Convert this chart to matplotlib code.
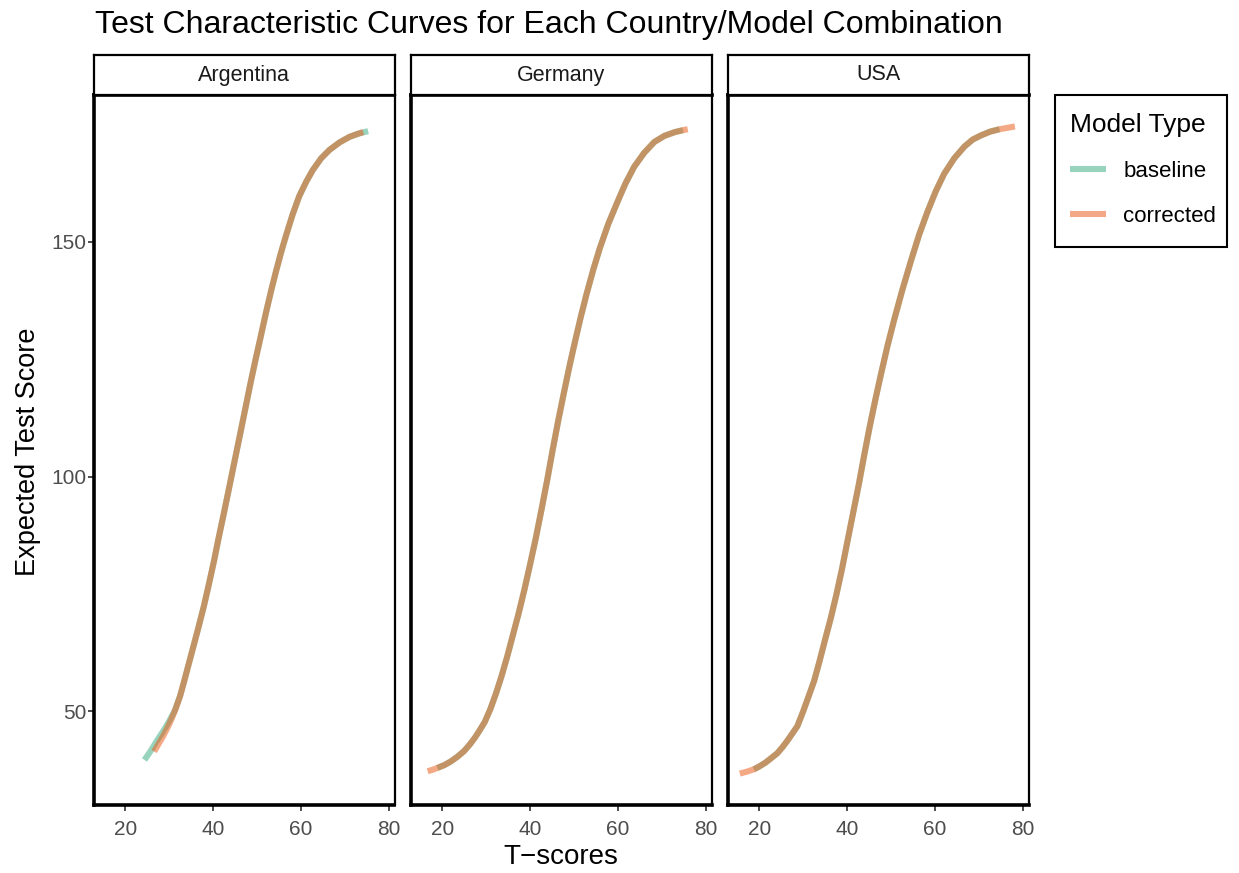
import matplotlib
matplotlib.use("Agg")
import matplotlib.pyplot as plt
from matplotlib.lines import Line2D
from matplotlib.patches import Rectangle

plt.rcParams['font.family'] = ['Liberation Sans', 'DejaVu Sans']

countries = ["Argentina", "Germany", "USA"]
models = ["baseline", "corrected"]

arg_base_x = [24.4, 25.8, 27.1, 28.5, 29.8, 31.2, 32.5, 33.5, 34.4, 35.6, 36.7, 37.9,
              39.0, 40.2, 41.3, 42.5, 43.6, 44.8, 45.9, 47.4, 48.6, 49.7, 50.9, 52.0,
              53.2, 54.3, 55.5, 56.6, 58.1, 59.6, 61.2, 62.7, 64.6, 66.5, 68.8, 71.1,
              73.2, 75.3]
arg_base_y = [39.6, 41.5, 43.5, 45.5, 47.5, 49.9, 53.2, 56.6, 59.8, 64.0, 67.9, 72.3,
              76.8, 81.9, 87.0, 92.3, 97.3, 102.8, 107.8, 114.7, 120.2, 125.0, 130.0, 134.7,
              139.5, 143.6, 147.8, 151.3, 155.8, 159.7, 162.8, 165.3, 167.8, 169.6, 171.2, 172.4,
              173.1, 173.6]
arg_corr_x = [26.6, 27.6, 28.6, 29.6, 30.5, 31.5, 32.5, 33.5, 34.4, 35.6, 36.7, 37.9,
              39.0, 40.2, 41.3, 42.5, 43.6, 44.8, 45.9, 47.4, 48.6, 49.7, 50.9, 52.0,
              53.2, 54.3, 55.5, 56.6, 58.1, 59.6, 61.2, 62.7, 64.6, 66.5, 68.8, 71.1,
              73.2, 74.2]
arg_corr_y = [41.4, 43.0, 44.6, 46.4, 48.2, 50.5, 53.2, 56.6, 59.8, 64.0, 67.9, 72.3,
              76.8, 81.9, 87.0, 92.3, 97.3, 102.8, 107.8, 114.7, 120.2, 125.0, 130.0, 134.7,
              139.5, 143.6, 147.8, 151.3, 155.8, 159.7, 162.8, 165.3, 167.8, 169.6, 171.2, 172.4,
              173.1, 173.4]

ger_base_x = [18.9, 20.5, 22.0, 23.5, 25.0, 26.3, 27.5, 28.6, 29.7, 31.0, 32.3, 33.5,
              34.8, 36.1, 37.4, 38.7, 40.0, 41.3, 42.6, 43.9, 45.1, 46.4, 47.7, 49.0,
              50.3, 51.6, 52.9, 54.4, 55.9, 57.8, 59.8, 61.7, 63.7, 66.0, 68.3, 70.6,
              73.0, 74.8]
ger_base_y = [37.9, 38.5, 39.3, 40.3, 41.5, 42.9, 44.4, 46.0, 47.7, 50.5, 53.9, 57.4,
              61.6, 66.2, 70.8, 75.8, 81.2, 86.8, 92.9, 99.2, 105.4, 111.8, 117.8, 123.6,
              129.0, 134.2, 139.0, 144.1, 148.7, 153.8, 158.3, 162.4, 166.0, 169.0, 171.3, 172.6,
              173.4, 173.8]
ger_corr_x = [16.7, 17.8] + ger_base_x + [75.9]
ger_corr_y = [37.2, 37.5] + ger_base_y + [174.0]

usa_base_x = [18.8, 20.0, 21.4, 22.9, 24.1, 25.3, 26.5, 27.6, 28.7, 30.0, 31.2, 32.5,
              33.7, 35.0, 36.3, 37.6, 38.9, 40.1, 41.4, 42.7, 43.9, 45.2, 46.5, 47.7,
              49.2, 50.7, 52.6, 54.5, 56.4, 58.3, 60.2, 62.1, 64.4, 66.7, 68.6, 70.5,
              72.6, 74.7]
usa_base_y = [37.6, 38.2, 39.0, 40.1, 41.0, 42.3, 43.8, 45.3, 46.8, 49.9, 53.0, 56.4,
              60.5, 65.2, 69.8, 74.9, 80.5, 86.2, 92.3, 98.4, 104.5, 110.8, 116.6, 121.7,
              127.8, 133.3, 139.8, 145.8, 151.5, 156.4, 160.8, 164.5, 167.8, 170.3, 171.8, 172.7,
              173.5, 174.0]
usa_corr_x = [15.6, 17.2] + usa_base_x + [76.5, 78.2]
usa_corr_y = [36.7, 37.1] + usa_base_y + [174.3, 174.6]

series = {
    "Argentina": {"baseline": (arg_base_x, arg_base_y), "corrected": (arg_corr_x, arg_corr_y)},
    "Germany": {"baseline": (ger_base_x, ger_base_y), "corrected": (ger_corr_x, ger_corr_y)},
    "USA": {"baseline": (usa_base_x, usa_base_y), "corrected": (usa_corr_x, usa_corr_y)},
}

x_ticks = [20, 40, 60, 80]
y_ticks = [50, 100, 150]

colors = {"baseline": "#33A97D", "corrected": "#EB550F"}
ALPHA = 0.5
LW = 4.4

W, H = 1239, 873
fig = plt.figure(figsize=(W / 100, H / 100), dpi=100)

panel_lefts = [93.5, 410.5, 727.5]
panel_w = 301
p_top, p_bot = 95, 805
s_top = 55

tick_gray = "#4D4D4D"

for i, c in enumerate(countries):
    l = panel_lefts[i]
    ax = fig.add_axes([l / W, 1 - p_bot / H, panel_w / W, (p_bot - p_top) / H])
    for m in models:
        xs, ys = series[c][m]
        ax.plot(xs, ys, color=colors[m], alpha=ALPHA, lw=LW, solid_capstyle='butt',
                solid_joinstyle='round')
    ax.set_xlim(12.8, 81.3)
    ax.set_ylim(30.0, 181.3)
    ax.set_xticks(x_ticks)
    ax.set_xticklabels([str(t) for t in x_ticks])
    ax.set_yticks(y_ticks)
    if i == 0:
        ax.set_yticklabels([str(t) for t in y_ticks])
        ax.tick_params(axis='y', length=4, width=1.4, color=tick_gray,
                       labelsize=15, labelcolor=tick_gray, pad=1)
    else:
        ax.tick_params(axis='y', left=False, labelleft=False)
    ax.tick_params(axis='x', length=4, width=1.4, color=tick_gray,
                   labelsize=15, labelcolor=tick_gray, pad=7)
    for side in ['top', 'right']:
        ax.spines[side].set_linewidth(1.6)
        ax.spines[side].set_color('black')
    for side in ['left', 'bottom']:
        ax.spines[side].set_linewidth(2.6)
        ax.spines[side].set_color('black')
    ax.spines['top'].set_linewidth(2.6)

    sax = fig.add_axes([l / W, 1 - p_top / H, panel_w / W, (p_top - s_top) / H])
    sax.set_xticks([])
    sax.set_yticks([])
    for side in sax.spines:
        sax.spines[side].set_linewidth(1.6)
        sax.spines[side].set_color('black')
    sax.text(0.5, 0.5, c, ha='center', va='center', fontsize=15.5, color='#1A1A1A',
             transform=sax.transAxes)

fig.text(95 / W, 1 - 33 / H, "Test Characteristic Curves for Each Country/Model Combination",
         fontsize=23, ha='left', va='baseline', color='black')
fig.text(561 / W, 1 - 857 / H, "T\u2212scores", fontsize=20, ha='center', va='center')
fig.text(28 / W, 1 - 452 / H, "Expected Test Score", fontsize=19.5, ha='center',
         va='center', rotation=90)

# legend frame (drawn separately so its size matches the reference box)
fig.add_artist(Rectangle((1055 / W, 1 - 247 / H), (1227 - 1055) / W, (247 - 95) / H,
                         transform=fig.transFigure, facecolor='white', edgecolor='black',
                         lw=1.5, zorder=1))

handles = [Line2D([0], [0], color=colors[m], alpha=ALPHA, lw=LW, solid_capstyle='butt')
           for m in models]
leg = fig.legend(handles, models, title="Model Type", loc='upper left',
                 bbox_to_anchor=(1055 / W, 1 - 98 / H), borderaxespad=0, frameon=False,
                 fontsize=16, title_fontsize=19, handlelength=1.6, handletextpad=0.8,
                 labelspacing=1.07, borderpad=0.68, alignment='left')
leg.set_zorder(2)

fig.savefig("out.png", dpi=100)
